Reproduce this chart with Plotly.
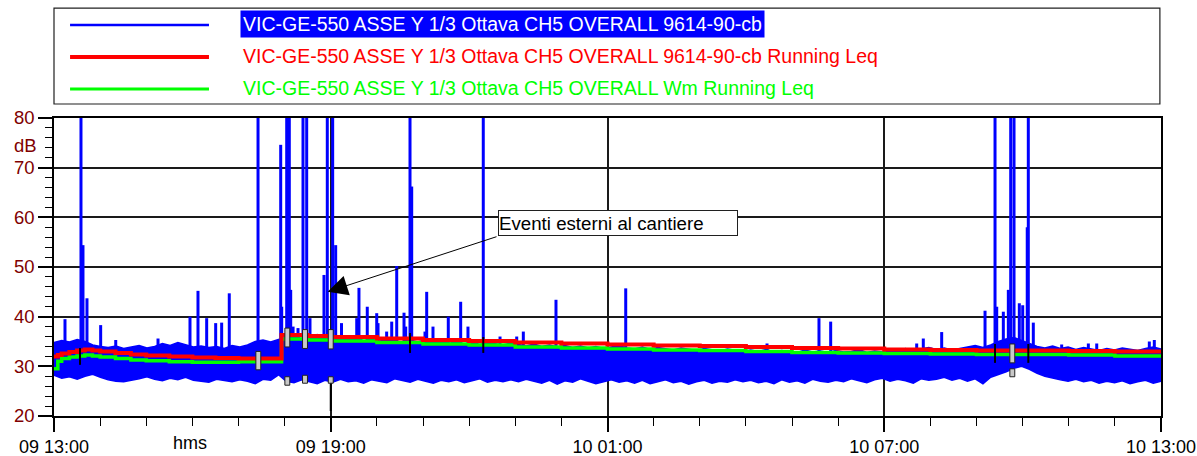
import numpy as np
import pandas as pd
import plotly.graph_objects as go

START = pd.Timestamp("2021-06-09 13:00")
SPAN_MIN = 1440

# ---- blue series: envelope of the dense signal (10-minute bins) ----
band_high = [34.8, 35.2, 34.9, 35.4, 35.0, 34.3, 34.0, 33.8, 34.1, 33.6,
             33.9, 34.2, 33.7, 34.0, 34.6, 34.2, 34.8, 34.4, 33.9, 34.1,
             33.8, 34.0, 33.6, 34.2, 33.9, 34.3, 35.0, 35.3, 34.9, 35.4,
             35.8, 36.2, 35.5, 35.9, 36.4, 35.6, 35.2, 35.8, 35.4, 35.9,
             35.1, 35.5, 35.0, 35.6, 35.2, 34.8, 35.3, 34.9, 35.4, 34.7,
             35.1, 34.6, 35.0, 34.5, 34.9, 34.4, 34.8, 34.6, 34.3, 34.7,
             34.4, 34.1, 34.5, 34.0, 34.3, 33.9, 34.2, 33.8, 34.1, 33.7,
             34.0, 33.6, 33.9, 34.2, 33.7, 33.5, 33.9, 33.4, 33.8, 33.5,
             33.3, 33.7, 33.4, 33.2, 33.6, 33.3, 33.1, 33.5, 33.2, 33.0,
             33.3, 33.0, 33.4, 32.9, 33.2, 33.0, 32.8, 33.3, 32.9, 33.1,
             32.8, 33.2, 32.9, 33.0, 33.4, 32.8, 33.1, 32.9, 33.3, 33.0,
             33.6, 33.2, 33.5, 33.8, 33.4, 33.7, 33.3, 33.6, 33.9, 34.2,
             33.8, 34.3, 35.0, 35.5, 35.8, 35.2, 34.6, 34.0, 33.7, 34.1,
             33.6, 33.9, 33.4, 33.8, 33.5, 33.2, 33.6, 33.3, 33.7, 33.4,
             33.2, 33.6, 33.9, 33.5]
band_low = [28.2, 27.6, 27.9, 27.4, 28.0, 28.4, 27.8, 27.3, 27.0, 26.9,
            27.2, 27.5, 27.9, 27.4, 27.1, 27.6, 27.3, 27.8, 27.2, 27.0,
            26.8, 27.4, 27.1, 26.9, 27.3, 27.0, 26.5, 27.4, 27.2, 28.3,
            27.0, 26.7, 27.3, 26.9, 26.5, 27.2, 26.8, 27.4, 26.9, 27.1,
            26.6, 27.3, 27.0, 26.7, 27.5, 27.1, 26.8, 27.4, 27.0, 26.6,
            27.2, 26.9, 27.3, 26.7, 27.1, 27.5, 26.8, 27.2, 26.9, 27.3,
            26.9, 27.4, 27.0, 26.6, 27.2, 26.4, 27.1, 26.8, 27.5, 27.0,
            26.5, 26.9, 27.3, 26.8, 27.1, 26.6, 27.2, 26.5, 26.9, 27.3,
            26.7, 27.0, 26.4, 26.9, 27.2, 26.6, 27.0, 26.8, 27.3, 26.9,
            27.2, 26.7, 27.0, 26.5, 27.3, 26.8, 27.1, 26.6, 27.4, 27.0,
            26.8, 27.2, 26.9, 27.5, 27.1, 26.7, 27.3, 27.6, 27.0, 27.4,
            27.1, 26.6, 27.5, 27.2, 27.4, 27.8, 27.2, 27.6, 27.0, 27.5,
            26.5, 27.8, 28.3, 28.9, 29.6, 30.0, 29.4, 28.6, 28.0, 27.6,
            27.3, 27.0, 27.4, 26.9, 27.2, 26.6, 27.0, 26.7, 27.1, 26.5,
            26.9, 27.2, 26.6, 27.0]

# ---- blue series: isolated peaks (minutes after 09 13:00, peak dB) ----
spike_minutes = [14.3, 35.1, 37.7, 42.9, 60.7, 80.3, 135.3, 176.9, 187.3, 198.6,
                 210.3, 218.1, 228.0, 265.4, 294.9, 296.2, 302.7, 306.1, 307.9, 311.0,
                 317.4, 323.9, 328.7, 333.0, 351.2, 355.5, 362.5, 366.4, 374.0, 393.8,
                 396.7, 407.5, 419.8, 421.5, 432.7, 439.3, 445.8, 455.3, 457.5, 463.1,
                 465.3, 482.6, 484.8, 493.0, 512.9, 529.0, 538.5, 558.4, 580.2, 601.9,
                 610.5, 653.0, 743.7, 927.5, 995.1, 1010.3, 1122.2, 1130.8, 1154.7, 1211.1,
                 1224.1, 1226.3, 1234.9, 1241.4, 1244.5, 1248.8, 1255.7, 1260.1, 1266.0, 1267.4,
                 1273.9, 1310.8, 1345.5, 1356.4, 1424.8, 1431.3]
spike_peaks = [39.5, 85.0, 54.4, 43.7, 38.3, 35.3, 35.6, 40.0, 45.2, 39.7,
               38.7, 38.8, 44.7, 85.0, 74.6, 42.0, 85.0, 85.0, 45.4, 38.0,
               37.7, 85.0, 85.0, 39.7, 48.4, 85.0, 85.0, 54.4, 38.7, 39.7,
               45.8, 42.0, 40.7, 38.7, 37.0, 39.0, 50.2, 40.8, 38.0, 85.0,
               66.2, 37.0, 45.0, 38.0, 40.0, 43.0, 38.0, 85.0, 36.0, 36.0,
               37.0, 43.4, 45.7, 34.6, 39.7, 39.0, 34.6, 35.6, 36.9, 41.2,
               85.0, 42.0, 41.0, 45.4, 85.0, 85.0, 42.7, 42.3, 58.0, 85.0,
               38.8, 34.4, 34.6, 34.6, 35.0, 35.3]

# ---- running Leq series ----
leq_minutes = [0, 5, 10, 20, 30, 40, 50, 60, 80, 100, 120, 150, 180, 210, 240, 270, 295,
               296, 330, 360, 420, 480, 540, 600, 660, 720, 780, 840, 900, 960, 1020,
               1080, 1140, 1200, 1260, 1320, 1380, 1440]
leq_red = [32.0, 32.3, 32.6, 32.9, 33.2, 33.4, 33.2, 33.0, 32.7, 32.4, 32.2, 32.0, 31.8,
           31.7, 31.6, 31.6, 31.6, 36.3, 36.1, 35.9, 35.6, 35.3, 35.1, 34.8, 34.6, 34.4,
           34.2, 34.1, 33.9, 33.7, 33.6, 33.4, 33.3, 33.2, 33.2, 33.1, 33.0, 33.0]
leq_green = [29.5, 31.0, 31.6, 31.9, 32.1, 32.3, 32.1, 31.9, 31.6, 31.3, 31.1, 30.9, 30.8,
             30.8, 30.9, 30.9, 30.9, 35.5, 35.3, 35.1, 34.8, 34.5, 34.3, 33.9, 33.7, 33.5,
             33.3, 33.2, 33.0, 32.8, 32.7, 32.6, 32.5, 32.4, 32.4, 32.3, 32.1, 32.0]

# ---- cursor marks ----
cursor_minutes = [33.8, 463.1, 558.4, 1224.1, 1267.4, 360.0]
cursor_top = [33.7, 36.7, 35.9, 34.5, 34.5, 26.6]
cursor_bottom = [30.3, 32.7, 32.7, 30.7, 30.7, 21.0]
box_minutes = [265.8, 303.5, 326.5, 360.0, 1246.6, 303.5, 326.5, 360.0, 1246.6]
box_top = [33.0, 37.7, 37.4, 37.4, 34.5, 27.9, 28.2, 27.9, 29.5]
box_bottom = [29.3, 33.9, 33.6, 33.5, 30.7, 26.2, 26.6, 26.6, 27.9]

legend_labels = ["VIC-GE-550 ASSE Y 1/3 Ottava CH5 OVERALL 9614-90-cb",
                 "VIC-GE-550 ASSE Y 1/3 Ottava CH5 OVERALL 9614-90-cb Running Leq",
                 "VIC-GE-550 ASSE Y 1/3 Ottava CH5 OVERALL Wm Running Leq"]
note_text = "Eventi esterni al cantiere"

BLUE, RED, GREEN = "#0000ff", "#ff0000", "#00ff00"
DARKRED = "#800000"
FONT = "Liberation Sans, Arial, sans-serif"


def t(m):
    return START + pd.to_timedelta(np.asarray(m, dtype=float), unit="min")


def ts(m):
    return (START + pd.Timedelta(minutes=float(m))).strftime("%Y-%m-%d %H:%M:%S")


fig = go.Figure()

# blue envelope band
band_t = t(np.linspace(0, SPAN_MIN, len(band_high)))
fig.add_trace(go.Scatter(
    x=list(band_t) + list(band_t[::-1]),
    y=list(band_high) + list(band_low[::-1]),
    fill="toself", fillcolor=BLUE, mode="lines",
    line=dict(color=BLUE, width=1.5), hoverinfo="skip"))

# blue peaks
sx, sy = [], []
for m, p in zip(spike_minutes, spike_peaks):
    tt = START + pd.Timedelta(minutes=m)
    sx += [tt, tt, None]
    sy += [30.0, p, None]
fig.add_trace(go.Scatter(x=sx, y=sy, mode="lines",
                         line=dict(color=BLUE, width=3), hoverinfo="skip"))

# running Leq lines
fig.add_trace(go.Scatter(x=t(leq_minutes), y=leq_green, mode="lines",
                         line=dict(color=GREEN, width=3.5, shape="hv")))
fig.add_trace(go.Scatter(x=t(leq_minutes), y=leq_red, mode="lines",
                         line=dict(color=RED, width=4, shape="hv")))

# cursor marks
cx, cy = [], []
for m, a, b in zip(cursor_minutes, cursor_top, cursor_bottom):
    tt = START + pd.Timedelta(minutes=m)
    cx += [tt, tt, None]
    cy += [b, a, None]
fig.add_trace(go.Scatter(x=cx, y=cy, mode="lines",
                         line=dict(color="black", width=2), hoverinfo="skip"))

shapes = []
for m, a, b in zip(box_minutes, box_top, box_bottom):
    shapes.append(dict(type="rect", xref="x", yref="y",
                       x0=ts(m - 3.2), x1=ts(m + 3.2), y0=b, y1=a,
                       fillcolor="#c8c8c8", line=dict(color="#202020", width=1)))

# manual legend box
L_TOP, L_BOT = 1.369, 1.047
shapes.append(dict(type="rect", xref="paper", yref="paper", x0=0, x1=0.999,
                   y0=L_BOT, y1=L_TOP, line=dict(color="#202020", width=1.2),
                   fillcolor="rgba(0,0,0,0)"))
rows_y = [1.312, 1.205, 1.097]
text_y = [1.317, 1.208, 1.102]
leg_cols = [BLUE, RED, GREEN]
leg_w = [2.5, 4, 3]
for yy, c, w in zip(rows_y, leg_cols, leg_w):
    shapes.append(dict(type="line", xref="paper", yref="paper", x0=0.0145, x1=0.14,
                       y0=yy, y1=yy, line=dict(color=c, width=w)))

annotations = []
for i, (lab, yy, c) in enumerate(zip(legend_labels, text_y, leg_cols)):
    annotations.append(dict(
        xref="paper", yref="paper", x=0.168, y=yy, xanchor="left", yanchor="middle",
        text=lab, showarrow=False, borderpad=2,
        bgcolor=BLUE if i == 0 else "rgba(0,0,0,0)",
        font=dict(family=FONT, size=19.5, color="white" if i == 0 else c)))

annotations.append(dict(xref="paper", yref="paper", x=-0.026, y=0.909,
                        text="dB", showarrow=False, xanchor="center", yanchor="middle",
                        font=dict(family=FONT, size=18.5, color=DARKRED)))
annotations.append(dict(xref="paper", yref="paper", x=0.123, y=-0.09,
                        text="hms", showarrow=False, xanchor="center", yanchor="middle",
                        font=dict(family=FONT, size=18, color="black")))

# event note with arrow
annotations.append(dict(xref="x", yref="y", x=ts(577.6), y=58.9, xanchor="left",
                        yanchor="middle", text=note_text, showarrow=False,
                        width=238, height=24, align="left", bgcolor="white",
                        bordercolor="#202020", borderwidth=1, borderpad=0,
                        font=dict(family=FONT, size=18.7, color="black")))
annotations.append(dict(xref="x", yref="y", x=ts(356), y=45.0,
                        axref="x", ayref="y", ax=ts(577.6), ay=56.2,
                        text="", showarrow=True, arrowhead=2, arrowsize=4,
                        arrowwidth=1, arrowcolor="black"))

fig.update_layout(
    width=1197, height=456,
    margin=dict(l=54, r=36, t=118, b=40, autoexpand=False),
    plot_bgcolor="white", paper_bgcolor="white",
    showlegend=False,
    font=dict(family=FONT, size=18, color="black"),
    shapes=shapes, annotations=annotations,
)
fig.update_xaxes(
    type="date", range=[ts(0), ts(SPAN_MIN)], tick0=ts(0), dtick=6 * 3600000,
    tickformat="%d %H:%M", ticks="outside", ticklen=14, tickwidth=1.5, tickcolor="black",
    showgrid=True, gridcolor="#1a1a1a", gridwidth=1.5, automargin=False,
    showline=True, linecolor="black", linewidth=1.5, mirror=True, zeroline=False,
    ticklabeloverflow="allow",
    minor=dict(dtick=3600000, ticks="outside", ticklen=8, tickcolor="black",
               tickwidth=1, showgrid=False),
    tickfont=dict(family=FONT, size=18, color="black"))
fig.update_yaxes(
    range=[20, 80], tick0=20, dtick=10, ticks="outside", ticklen=14, tickwidth=1.5,
    tickcolor="black", showgrid=True, gridcolor="#1a1a1a", gridwidth=1.5,
    showline=True, linecolor="black", linewidth=1.5, mirror=True, zeroline=False,
    automargin=False,
    minor=dict(dtick=2, ticks="outside", ticklen=7, tickcolor="black", tickwidth=1,
               showgrid=False),
    tickfont=dict(family=FONT, size=18.5, color=DARKRED))

fig.write_html("out.html")
